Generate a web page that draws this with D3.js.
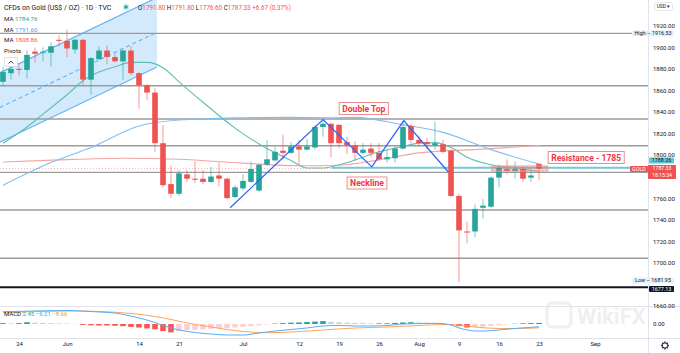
<!DOCTYPE html>
<html>
<head>
<meta charset="utf-8">
<script src="https://cdn.jsdelivr.net/npm/d3@7"></script>
<style>
  html, body { margin: 0; padding: 0; background: #fff; }
  svg { display: block; font-family: Roboto, 'Noto Sans', sans-serif; }
</style>
</head>
<body>
<svg id="chart" width="680" height="353"></svg>
<script>
// daily candles from 2021-05-20, weekdays only: [open, high, low, close]
const firstDay = '2021-05-20'
const candles = [
  [1868, 1882, 1864, 1877], [1876, 1884, 1870, 1880], [1880, 1884, 1874, 1879], [1879, 1897, 1871, 1893],
  [1896, 1900, 1886, 1894], [1895, 1900, 1887, 1896], [1895, 1905, 1882, 1901], [1907, 1911, 1901, 1906],
  [1906, 1916.5, 1891, 1899], [1898, 1908, 1894, 1907], [1907, 1908, 1865, 1870], [1870, 1891, 1856, 1890],
  [1889, 1901, 1888, 1897], [1897, 1902, 1884, 1891], [1891, 1894, 1886, 1887], [1887, 1898, 1870, 1897],
  [1897, 1901, 1874, 1876], [1876, 1877, 1843, 1865], [1865, 1866, 1851, 1858], [1858, 1862, 1803, 1811],
  [1811, 1828, 1770, 1772], [1773, 1790, 1760, 1764], [1764, 1786, 1762, 1783], [1782, 1786, 1775, 1778],
  [1778, 1794, 1774, 1777], [1778, 1786, 1773, 1775], [1775, 1789, 1774, 1780], [1781, 1793, 1771, 1778],
  [1778, 1779, 1759, 1760], [1761, 1772, 1760, 1770], [1769, 1782, 1767, 1776], [1775, 1794, 1774, 1787],
  [1767, 1792, 1766, 1791], [1791, 1814, 1790, 1796], [1795, 1808, 1794, 1803], [1804, 1819, 1795, 1802],
  [1802, 1812, 1801, 1808], [1808, 1814, 1791, 1805], [1805, 1815, 1804, 1808], [1807, 1828, 1805, 1826],
  [1826, 1832, 1817, 1829], [1829, 1830, 1798, 1811], [1828, 1829, 1806, 1811], [1812, 1817, 1801, 1809],
  [1809, 1813, 1795, 1802], [1802, 1811, 1800, 1805], [1806, 1811, 1798, 1802], [1802, 1811, 1795, 1796],
  [1796, 1805, 1793, 1798], [1797, 1808, 1793, 1806], [1806, 1831, 1805, 1826], [1827, 1829, 1811, 1814],
  [1814, 1818, 1808, 1811], [1812, 1816, 1805, 1810], [1809, 1831, 1805, 1811], [1810, 1814, 1802, 1803],
  [1804, 1805, 1761, 1762], [1762, 1764, 1681.95, 1730], [1729, 1738, 1718, 1728], [1729, 1754, 1724, 1750],
  [1751, 1759, 1741, 1753], [1752, 1780, 1751, 1779], [1779, 1791, 1770, 1788], [1787, 1796, 1782, 1785],
  [1785, 1794, 1778, 1787], [1787, 1789, 1775, 1778], [1779, 1787, 1775, 1781], [1791.8, 1791.8, 1776.6, 1787.33]
]

// moving averages read at sample bars: [bar, price]
const maFast = [[0, 1811], [3, 1826], [5, 1838], [8, 1856], [10, 1869], [12, 1877], [14, 1882], [16, 1886],
  [18, 1886], [20, 1881], [22, 1868], [25, 1849], [29, 1825], [33, 1806], [36, 1795], [38, 1788], [40, 1788],
  [43, 1793], [47, 1803], [50, 1808], [52, 1811], [54, 1811.5], [56, 1807], [58, 1798], [61, 1791], [64, 1788],
  [67, 1784.76]]
const maMid = [[0, 1772], [6, 1793], [11, 1807], [17, 1827], [22, 1832.5], [29, 1834.5], [36, 1835], [41, 1834.5],
  [44, 1835], [50, 1828], [55, 1821], [61, 1805], [67, 1791.6]]
const maSlow = [[0, 1793.5], [7, 1795.5], [15, 1797], [22, 1796], [30, 1792.5], [37, 1790], [42, 1790.5],
  [47, 1795.5], [52, 1802], [60, 1805.5], [67, 1808.86]]

// MACD pane
const macdLine = [[0, 28], [4, 29.5], [8, 30.7], [10, 29.5], [12, 27.3], [14, 25], [16, 18], [18, 9], [19, 3.4],
  [20, -3.4], [21, -9], [22, -13.6], [24, -19.3], [26, -22.7], [28, -25], [30, -25], [32, -20.5], [34, -16],
  [36, -12.5], [38, -9], [40, -4.5], [42, -3.4], [44, -4.5], [46, -4.5], [48, -3.4], [50, 0], [52, 1.1],
  [54, 1.6], [56, -2.3], [57, -9], [58, -13.6], [59, -16], [60, -16], [62, -13.6], [64, -10.2], [66, -7.5], [67, -6.21]]
const signalLine = [[0, 25.7], [8, 29.5], [12, 28.4], [16, 24], [19, 17], [21, 10.2], [24, -1], [26, -6.8],
  [28, -12.5], [30, -17], [33, -19.8], [36, -18.2], [40, -13.6], [44, -9.1], [48, -6.8], [52, -3.4], [55, -1.1],
  [57, -2.3], [59, -6.8], [62, -10.2], [64, -10.2], [67, -8.66]]
const histogram = [2, 1.5, 2, 4, 3, 2.5, 2, 1.5, 1, 0.5, -2, -3, -3.5, -3.5, -4, -5, -6.5, -8, -10, -12,
  -16, -19, -16, -14, -13, -12, -11, -10, -9.5, -8, -6.5, -5, -3, -1, 1, 2, 3, 3.5, 4.5, 5.5,
  6.5, 5, 4, 3, 2.5, 2, 1.5, 1.5, 1.5, 2.5, 3.5, 4, 3.5, 3, 2.5, 1.5, -1.5, -5, -8, -7,
  -6, -4, -2.5, -1, 0.5, 1.5, 2, 2.45]

// drawings
const pivotLevels = [1913, 1864.3, 1833.4, 1808.6, 1783.9, 1748.9, 1704.1]
const supportLevel = 1677.13
const neckline = { from: 41.1, price: 1788.26 }
const resistanceZone = { from: 61.1, to: 68.1, low: 1785.1, high: 1789.8 }
const doubleTop = [[28.4, 1751], [40, 1833], [46.1, 1789], [50.1, 1832], [55.7, 1784]]
const channel = { from: -0.4, fromPrice: 1811.9, to: 19.25, toPrice: 1881.8, width: 64.4 }
const labels = [
  { bar: 45.1, price: 1843.2, text: 'Double Top' },
  { bar: 45.5, price: 1774, text: 'Neckline' },
  { bar: 72.9, price: 1797.7, text: 'Resistance - 1785' }
]
// 1680 and 1780 sit under the price badges, so they are not shown
const priceTicks = [1660, 1700, 1720, 1740, 1760, 1800, 1820, 1840, 1860, 1880, 1900, 1920]
const dateTicks = ['2021-05-24', '2021-06-01', '2021-06-14', '2021-06-21', '2021-07-01', '2021-07-12',
  '2021-07-19', '2021-07-26', '2021-08-02', '2021-08-09', '2021-08-16', '2021-08-23', '2021-09-01']
const legendMAs = [
  { value: '1784.76', color: '#26a69a' },
  { value: '1791.60', color: '#42a5f5' },
  { value: '1808.86', color: '#ef5350' }
]

const UP = '#26a69a'
const DOWN = '#ef5350'
const plotRight = 648
const mainBottom = 306.5
const macdTop = 307
const axisTop = 338.5

const parse = d3.utcParse('%Y-%m-%d')
const days = d3.utcDay.range(parse(firstDay), parse('2021-09-30'))
  .filter(d => d.getUTCDay() !== 0 && d.getUTCDay() !== 6)
const dayIndex = s => days.findIndex(d => +d === +parse(s))

const svg = d3.select('#chart')
const x = d3.scaleLinear().domain([0, 80]).range([3, 643])
const y = d3.scaleLinear().domain([1700, 1920]).range([262.7, 25.8])
const ym = d3.scaleLinear().domain([0, -20]).range([324, 332.8])

const defs = svg.append('defs')
defs.append('clipPath').attr('id', 'mainClip')
  .append('rect').attr('x', 0).attr('y', 0).attr('width', plotRight).attr('height', mainBottom)
defs.append('clipPath').attr('id', 'macdClip')
  .append('rect').attr('x', 0).attr('y', macdTop).attr('width', plotRight).attr('height', axisTop - macdTop)

svg.append('rect').attr('width', 680).attr('height', 353).attr('fill', '#fff')

// watermark
const wm = svg.append('g').attr('opacity', 0.06)
wm.append('rect').attr('x', 547).attr('y', 303).attr('width', 24).attr('height', 24).attr('rx', 5)
  .attr('fill', 'none').attr('stroke', '#000').attr('stroke-width', 3)
wm.append('text').attr('x', 577).attr('y', 324).attr('font-size', 22).attr('font-weight', 700)
  .attr('fill', '#000').text('WikiFX')

const main = svg.append('g').attr('clip-path', 'url(#mainClip)')

// parallel channel
const chLow = k => channel.fromPrice + (k - channel.from) * (channel.toPrice - channel.fromPrice) / (channel.to - channel.from)
const chPts = [
  [channel.from, chLow(channel.from)], [channel.to, chLow(channel.to)],
  [channel.to, chLow(channel.to) + channel.width], [channel.from, chLow(channel.from) + channel.width]
]
main.append('path')
  .attr('d', 'M' + chPts.map(p => [x(p[0]), y(p[1])].join(',')).join('L') + 'Z')
  .attr('fill', '#2196f3').attr('fill-opacity', 0.2)
const chLine = (off, dash) => main.append('line')
  .attr('x1', x(channel.from)).attr('y1', y(chLow(channel.from) + off))
  .attr('x2', x(channel.to)).attr('y2', y(chLow(channel.to) + off))
  .attr('stroke', '#64b5f6').attr('stroke-width', 1.2)
  .attr('stroke-dasharray', dash ? '4,3' : null)
chLine(0, false)
chLine(channel.width, false)
chLine(channel.width / 2, true)

// pivot lines
main.selectAll('line.pivot')
  .data(pivotLevels)
  .join('line')
  .attr('class', 'pivot')
  .attr('x1', 0).attr('x2', plotRight)
  .attr('y1', d => y(d)).attr('y2', d => y(d))
  .attr('stroke', '#9b9b9b').attr('stroke-width', 1.4)

main.append('line')
  .attr('x1', 0).attr('x2', plotRight)
  .attr('y1', y(supportLevel)).attr('y2', y(supportLevel))
  .attr('stroke', '#131722').attr('stroke-width', 2)

// moving averages
const maPath = d3.line().x(d => x(d[0])).y(d => y(d[1])).curve(d3.curveMonotoneX)
;[[maSlow, '#f5a3a3'], [maMid, '#7fbff3'], [maFast, '#5fbfb0']].forEach(([data, color]) => {
  main.append('path').attr('d', maPath(data))
    .attr('fill', 'none').attr('stroke', color).attr('stroke-width', 1.1)
})

// last price line
main.append('line')
  .attr('x1', 0).attr('x2', plotRight)
  .attr('y1', y(1787.33)).attr('y2', y(1787.33))
  .attr('stroke', DOWN).attr('stroke-opacity', 0.45).attr('stroke-width', 1)
  .attr('stroke-dasharray', '1,2')

// neckline
main.append('line')
  .attr('x1', x(neckline.from)).attr('x2', plotRight)
  .attr('y1', y(neckline.price)).attr('y2', y(neckline.price))
  .attr('stroke', '#72c9dc').attr('stroke-width', 2)

// candles
const bodyW = 5.6
const candle = main.append('g').selectAll('g')
  .data(candles)
  .join('g')
candle.append('line')
  .attr('x1', (d, i) => x(i)).attr('x2', (d, i) => x(i))
  .attr('y1', d => y(d[1])).attr('y2', d => y(d[2]))
  .attr('stroke', d => d[3] >= d[0] ? UP : DOWN).attr('stroke-opacity', 0.6)
candle.append('rect')
  .attr('x', (d, i) => x(i) - bodyW / 2)
  .attr('width', bodyW)
  .attr('y', d => y(Math.max(d[0], d[3])))
  .attr('height', d => Math.max(1, Math.abs(y(d[0]) - y(d[3]))))
  .attr('fill', d => d[3] >= d[0] ? UP : DOWN)

// resistance zone
main.append('rect')
  .attr('x', x(resistanceZone.from)).attr('width', x(resistanceZone.to) - x(resistanceZone.from))
  .attr('y', y(resistanceZone.high)).attr('height', y(resistanceZone.low) - y(resistanceZone.high))
  .attr('fill', DOWN).attr('fill-opacity', 0.25)
  .attr('stroke', '#f19a9a').attr('stroke-width', 1)

// double top zigzag
main.append('path')
  .attr('d', d3.line().x(d => x(d[0])).y(d => y(d[1]))(doubleTop))
  .attr('fill', 'none').attr('stroke', '#2962ff').attr('stroke-width', 1.2)

// text callouts
labels.forEach(l => {
  const g = svg.append('g')
  const t = g.append('text')
    .attr('x', x(l.bar)).attr('y', y(l.price))
    .attr('text-anchor', 'middle').attr('dy', '0.36em')
    .attr('font-size', 8.6).attr('font-weight', 700)
    .attr('fill', '#f23645').text(l.text)
  const w = t.node().getComputedTextLength()
  g.insert('rect', 'text')
    .attr('x', x(l.bar) - w / 2 - 3).attr('y', y(l.price) - 6)
    .attr('width', w + 6).attr('height', 12)
    .attr('fill', '#fff').attr('stroke', '#f28b8b').attr('stroke-width', 1)
})

// MACD pane
const macd = svg.append('g').attr('clip-path', 'url(#macdClip)')
macd.selectAll('rect')
  .data(histogram)
  .join('rect')
  .attr('x', (d, i) => x(i) - bodyW / 2)
  .attr('width', bodyW)
  .attr('y', d => Math.min(ym(d), ym(0)))
  .attr('height', d => Math.abs(ym(d) - ym(0)))
  .attr('fill', (d, i) => {
    const prev = i > 0 ? histogram[i - 1] : d
    if (d >= 0) return d >= prev ? '#26a69a' : '#b2dfdb'
    return d <= prev ? '#ff5252' : '#ffcdd2'
  })
const macdPath = d3.line().x(d => x(d[0])).y(d => ym(d[1])).curve(d3.curveMonotoneX)
macd.append('path').attr('d', macdPath(signalLine))
  .attr('fill', 'none').attr('stroke', '#ffa45c').attr('stroke-width', 1)
macd.append('path').attr('d', macdPath(macdLine))
  .attr('fill', 'none').attr('stroke', '#5aaef0').attr('stroke-width', 1)

// pane borders
svg.append('line').attr('x1', 0).attr('x2', 680).attr('y1', mainBottom).attr('y2', mainBottom)
  .attr('stroke', '#e0e3eb')
svg.append('line').attr('x1', 0).attr('x2', 680).attr('y1', axisTop).attr('y2', axisTop)
  .attr('stroke', '#e0e3eb')
svg.append('line').attr('x1', plotRight + 0.5).attr('x2', plotRight + 0.5).attr('y1', 0).attr('y2', 353)
  .attr('stroke', '#e0e3eb')

// price axis
const priceAxis = svg.append('g')
  .attr('transform', `translate(${plotRight + 3},0)`)
  .call(d3.axisRight(y).tickValues(priceTicks).tickFormat(d3.format('.2f')).tickSize(0).tickPadding(2))
priceAxis.select('.domain').remove()
priceAxis.selectAll('text').attr('font-size', 6).attr('fill', '#131722')
  .style('font-family', 'Roboto, sans-serif')
svg.append('text').attr('x', plotRight + 5).attr('y', ym(0)).attr('dy', '0.35em')
  .attr('font-size', 6).attr('fill', '#131722').text('0.00')

// time axis
const tickIdx = dateTicks.map(dayIndex)
const monthStart = i => i === 0 || days[i].getUTCMonth() !== days[i - 1].getUTCMonth()
const timeAxis = svg.append('g')
  .attr('transform', `translate(0,${axisTop})`)
  .call(d3.axisBottom(x).tickValues(tickIdx).tickSize(0).tickPadding(3)
    .tickFormat(i => monthStart(i) ? d3.utcFormat('%b')(days[i]) : d3.utcFormat('%-d')(days[i])))
timeAxis.select('.domain').remove()
timeAxis.selectAll('text').attr('font-size', 6).attr('fill', '#131722')
  .style('font-family', 'Roboto, sans-serif')

// price scale badges
function badge (yc, text, bg, fg, x0, w, h = 6) {
  svg.append('rect').attr('x', x0).attr('y', yc - h / 2).attr('width', w).attr('height', h)
    .attr('fill', bg).attr('rx', 1)
  svg.append('text').attr('x', x0 + w / 2).attr('y', yc).attr('dy', '0.35em')
    .attr('text-anchor', 'middle').attr('font-size', 5.4).attr('fill', fg).text(text)
}
badge(y(1913), 'High  \u2013  1916.53', '#e3f2fd', '#131722', 632, 42)
badge(280.5, 'Low  \u2013  1681.95', '#e3f2fd', '#131722', 632, 42)
badge(289, '1677.13', '#131722', '#fff', 649, 25)
badge(160.5, '1788.26', '#5fc8d8', '#131722', 649, 25)
badge(169, 'GOLD', DOWN, '#fff', 630, 18)
svg.append('rect').attr('x', 648).attr('y', 165).attr('width', 28).attr('height', 14)
  .attr('fill', DOWN).attr('rx', 1)
svg.append('text').attr('x', 662).attr('y', 168.6).attr('dy', '0.35em').attr('text-anchor', 'middle')
  .attr('font-size', 5.2).attr('fill', '#fff').text('1787.33')
svg.append('text').attr('x', 662).attr('y', 175.4).attr('dy', '0.35em').attr('text-anchor', 'middle')
  .attr('font-size', 5.2).attr('fill', '#fff').text('18:15:34')

// currency box
svg.append('rect').attr('x', 654.5).attr('y', 2.5).attr('width', 18).attr('height', 8).attr('rx', 2)
  .attr('fill', '#fff').attr('stroke', '#d1d4dc').attr('stroke-width', 0.6)
svg.append('text').attr('x', 663.5).attr('y', 6.5).attr('dy', '0.35em').attr('text-anchor', 'middle')
  .attr('font-size', 5).attr('fill', '#131722').text('USD \u25be')

// gear
const gear = svg.append('g').attr('transform', 'translate(665,345.5)')
  .attr('stroke', '#131722').attr('fill', 'none').attr('stroke-width', 0.9)
gear.append('circle').attr('r', 2.6)
gear.selectAll('line').data(d3.range(8)).join('line')
  .attr('x1', d => Math.cos(d * Math.PI / 4) * 2.6).attr('y1', d => Math.sin(d * Math.PI / 4) * 2.6)
  .attr('x2', d => Math.cos(d * Math.PI / 4) * 3.9).attr('y2', d => Math.sin(d * Math.PI / 4) * 3.9)
  .attr('stroke-width', 1.3)

// header legend
const head = svg.append('text').attr('x', 4).attr('y', 9.5).attr('font-size', 6.9).attr('fill', '#131722')
head.text('CFDs on Gold (US$ / OZ) \u00b7 1D \u00b7 TVC')
svg.append('circle').attr('cx', 126).attr('cy', 7).attr('r', 3.5).attr('fill', '#26a69a').attr('fill-opacity', 0.2)
svg.append('circle').attr('cx', 126).attr('cy', 7).attr('r', 1.8).attr('fill', '#26a69a')
const ohlc = svg.append('text').attr('x', 138).attr('y', 9.5).attr('font-size', 6.3)
;[['O', '1791.80'], ['H', '1791.80'], ['L', '1776.60'], ['C', '1787.33']].forEach(([k, v]) => {
  ohlc.append('tspan').attr('fill', '#131722').text(k)
  ohlc.append('tspan').attr('fill', DOWN).text(v + ' ')
})
ohlc.append('tspan').attr('fill', DOWN).text('+6.67 (0.37%)')

legendMAs.forEach((m, i) => {
  const t = svg.append('text').attr('x', 4).attr('y', 21 + i * 10.5).attr('font-size', 6.2)
  t.append('tspan').attr('fill', '#131722').text('MA  ')
  t.append('tspan').attr('fill', m.color).text(m.value)
})
svg.append('text').attr('x', 4).attr('y', 52.5).attr('font-size', 6.2).attr('fill', '#131722').text('Pivots')
svg.append('rect').attr('x', 4.5).attr('y', 57.5).attr('width', 13).attr('height', 9).attr('rx', 1.5)
  .attr('fill', '#fff').attr('stroke', '#d1d4dc').attr('stroke-width', 0.7)
svg.append('path').attr('d', 'M8.5,63.5 L11,61 L13.5,63.5').attr('fill', 'none')
  .attr('stroke', '#131722').attr('stroke-width', 0.8)

// MACD legend
const ml = svg.append('text').attr('x', 4).attr('y', 316).attr('font-size', 6)
ml.append('tspan').attr('fill', '#131722').text('MACD  ')
ml.append('tspan').attr('fill', '#26a69a').text('2.45  ')
ml.append('tspan').attr('fill', '#42a5f5').text('\u22126.21  ')
ml.append('tspan').attr('fill', '#ff9800').text('\u22128.66')
</script>
</body>
</html>
